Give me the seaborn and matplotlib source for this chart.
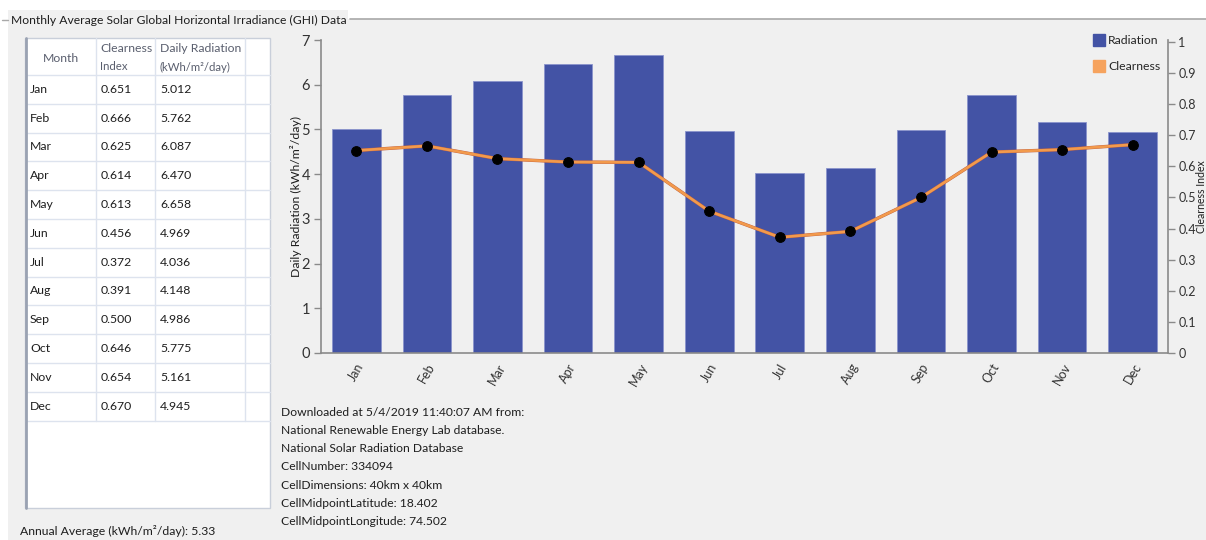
import numpy as np
import pandas as pd
import matplotlib
matplotlib.use("Agg")
import matplotlib.pyplot as plt
import seaborn as sns
from matplotlib.patches import Rectangle
from matplotlib.lines import Line2D

# ---------------- data ----------------
months = ["Jan", "Feb", "Mar", "Apr", "May", "Jun", "Jul", "Aug", "Sep", "Oct", "Nov", "Dec"]
clearness = [0.651, 0.666, 0.625, 0.614, 0.613, 0.456, 0.372, 0.391, 0.500, 0.646, 0.654, 0.670]
radiation = [5.012, 5.762, 6.087, 6.470, 6.658, 4.969, 4.036, 4.148, 4.986, 5.775, 5.161, 4.945]
annual_average = "5.33"
title = "Monthly Average Solar Global Horizontal Irradiance (GHI) Data"
info_lines = [
    "Downloaded at 5/4/2019 11:40:07 AM from:",
    "National Renewable Energy Lab database.",
    "National Solar Radiation Database",
    "CellNumber: 334094",
    "CellDimensions: 40km x 40km",
    "CellMidpointLatitude: 18.402",
    "CellMidpointLongitude: 74.502",
]
right_ticks = [0, 0.1, 0.2, 0.3, 0.4, 0.5, 0.6, 0.7, 0.8, 0.9, 1]
right_ticklabels = ["0", "0.1", "0.2", "0.3", "0.4", "0.5", "0.6", "0.7", "0.8", "0.9", "1"]

sns.set_theme(style="white")
plt.rcParams["font.family"] = ["Lato", "DejaVu Sans"]

BG = "#f0f0f0"
BAR = "#4353a5"
ORANGE = "#f29a4c"
TXT = "#1e1e1e"
AX = "#8a8a8a"
FS = 8.8

fig = plt.figure(figsize=(12.06, 5.4), dpi=100, facecolor=BG)

# ---------- background / group box / table in pixel coords ----------
bg = fig.add_axes([0, 0, 1, 1], zorder=0)
bg.set_xlim(0, 1206)
bg.set_ylim(540, 0)
bg.axis("off")
bg.add_patch(Rectangle((0, 0), 1206, 19, color="white", lw=0))
bg.add_patch(Rectangle((0, 0), 8, 540, color="white", lw=0))
bg.plot([350, 1206], [19, 19], color="#a8a8a8", lw=1.2)
bg.add_patch(Rectangle((8, 10), 340, 10, color=BG, lw=0))
bg.plot([2, 8], [20, 20], color="#a8a8a8", lw=1.0)
bg.text(11, 20, title, ha="left", va="center", fontsize=8.7, color=TXT)

# table
tx0, tx1, ty0, hdr, rowh, tbot = 25, 270, 38, 75, 28.8, 508
col_x = [96, 155, 245]
grid_c = "#dde3ee"
bg.add_patch(Rectangle((tx0, ty0), tx1 - tx0, tbot - ty0, facecolor="white",
                       edgecolor="#c9cfda", lw=1.0))
rows_end = hdr + rowh * len(months)
for i in range(len(months) + 1):
    yy = hdr + i * rowh
    bg.plot([tx0, tx1], [yy, yy], color=grid_c, lw=1.0)
for cx in col_x:
    bg.plot([cx, cx], [ty0, rows_end], color=grid_c, lw=1.0)
bg.plot([26, 26], [ty0, tbot], color="#9aa2b2", lw=2.0)

hc = "#5a5f6e"
bg.text(61, 58, "Month", ha="center", va="center", fontsize=FS, color=hc)
bg.text(100, 48, "Clearness", ha="left", va="center", fontsize=FS, color=hc)
bg.text(100, 67, "Index", ha="left", va="center", fontsize=8.2, color=hc)
bg.text(160, 48, "Daily Radiation", ha="left", va="center", fontsize=FS, color=hc)
bg.text(160, 67, "(kWh/m²/day)", ha="left", va="center", fontsize=8.2, color=hc)
for i, (m, c, r) in enumerate(zip(months, clearness, radiation)):
    yy = hdr + (i + 0.5) * rowh
    bg.text(30, yy, m, ha="left", va="center", fontsize=FS, color=TXT)
    bg.text(101, yy, f"{c:.3f}", ha="left", va="center", fontsize=FS, color=TXT)
    bg.text(160, yy, f"{r:.3f}", ha="left", va="center", fontsize=FS, color=TXT)

bg.text(20, 531, f"Annual Average (kWh/m²/day): {annual_average}", ha="left", va="center",
        fontsize=FS, color=TXT)
for i, line in enumerate(info_lines):
    bg.text(281, 412 + i * 18.3, line, ha="left", va="center", fontsize=8.75, color=TXT)

# ---------------- main chart ----------------
ax = fig.add_axes([321 / 1206, 1 - 353 / 540, (1168 - 321) / 1206, (353 - 40) / 540], zorder=2)
ax.set_facecolor("none")
df = pd.DataFrame({"Month": months, "Radiation": radiation, "Clearness": clearness})
sns.barplot(data=df, x="Month", y="Radiation", color=BAR, width=0.69, saturation=1,
            edgecolor="#8a93cc", linewidth=0.6, ax=ax)
ax.set_xlim(-0.5, len(months) - 0.5)
ax.set_ylim(0, 7)
ax.set_yticks(range(0, 8))
ax.set_xlabel("")
ax.set_ylabel("Daily Radiation (kWh/m²/day)", fontsize=FS, color=TXT)
ax.yaxis.set_label_coords((302 - 321) / 847, 0.5)
ax.set_xticks(np.arange(-0.5, len(months), 1), minor=True)
ax.tick_params(axis="x", which="major", length=0, pad=6, labelsize=9.0, labelcolor="#333333")
ax.tick_params(axis="x", which="minor", length=5, width=1, color=AX, direction="out")
ax.tick_params(axis="y", length=5, width=1, color=AX, direction="out", left=True,
               labelsize=10.5, labelcolor="#333333", pad=3)
for lab in ax.get_xticklabels():
    lab.set_rotation(60)
    lab.set_ha("center")
for s in ["top", "right"]:
    ax.spines[s].set_visible(False)
for s in ["left", "bottom"]:
    ax.spines[s].set_color(AX)
    ax.spines[s].set_linewidth(1.2)

ax2 = ax.twinx()
ax2.set_facecolor("none")
xpos = np.arange(len(months))
sns.lineplot(x=xpos, y=clearness, ax=ax2, color="#c06040", lw=2.4, zorder=3)
sns.lineplot(x=xpos, y=clearness, ax=ax2, color=ORANGE, lw=1.9, marker="o", markersize=7,
             markerfacecolor="black", markeredgecolor="black", zorder=4)
ax2.set_ylim(0, 1.0064)
ax2.set_yticks(right_ticks)
ax2.set_yticklabels(right_ticklabels)
ax2.tick_params(axis="y", length=5, width=1, color=AX, direction="out", right=True,
                labelsize=9.0, labelcolor="#333333", pad=2.5)
ax2.set_ylabel("Clearness Index", fontsize=7.6, color=TXT)
ax2.yaxis.set_label_coords((1196 - 321) / 847, 0.5)
for s in ["top", "left", "bottom"]:
    ax2.spines[s].set_visible(False)
ax2.spines["right"].set_color(AX)
ax2.spines["right"].set_linewidth(1.2)

handles = [
    Line2D([], [], marker="s", ls="", color=BAR, markersize=9),
    Line2D([], [], marker="s", ls="", color="#f6a35e", markersize=9),
]
ax2.legend(handles, ["Radiation", "Clearness"], loc="upper right", bbox_to_anchor=(0.997, 1.03),
           frameon=False, fontsize=FS, handlelength=0.8, handletextpad=0.35,
           labelspacing=1.2, borderaxespad=0)

fig.savefig("out.png", dpi=100, facecolor=BG)
